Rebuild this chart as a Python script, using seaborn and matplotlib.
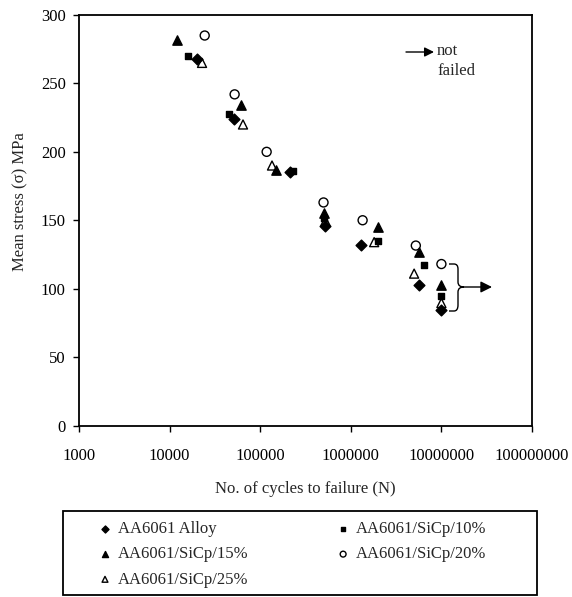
import matplotlib
matplotlib.use("Agg")
import matplotlib.pyplot as plt
from matplotlib.path import Path
from matplotlib.patches import PathPatch, Rectangle
from matplotlib.ticker import NullLocator
import pandas as pd
import seaborn as sns

# ---- data: mean stress (MPa) vs. cycles to failure ----
series_names = ["AA6061 Alloy", "AA6061/SiCp/10%", "AA6061/SiCp/15%",
                "AA6061/SiCp/20%", "AA6061/SiCp/25%"]

alloy_cycles = [20100, 51400, 211000, 525000, 1290000, 5600000, 10000000]
alloy_stress = [268, 224, 185, 145.5, 132, 102.5, 84.5]

sic10_cycles = [15800, 45300, 228000, 510000, 2020000, 6450000, 10000000]
sic10_stress = [270, 228, 186, 152, 135, 117, 94.5]

sic15_cycles = [12100, 60800, 149000, 500000, 2020000, 5600000, 10000000]
sic15_stress = [282, 234, 187, 155.5, 145, 126.5, 102.5]

sic20_cycles = [24400, 52200, 117800, 500000, 1350000, 5220000, 10000000]
sic20_stress = [285, 242, 200, 163, 150, 131.5, 118]

sic25_cycles = [22800, 64600, 135000, 525000, 1810000, 5000000, 10000000]
sic25_stress = [265, 220, 190, 149.5, 134, 111, 89.5]

x_ticks = [1e3, 1e4, 1e5, 1e6, 1e7, 1e8]
x_tick_labels = ["1000", "10000", "100000", "1000000", "10000000", "100000000"]
y_ticks = [0, 50, 100, 150, 200, 250, 300]

frames = []
for name, cyc, sts in zip(series_names,
                          [alloy_cycles, sic10_cycles, sic15_cycles, sic20_cycles, sic25_cycles],
                          [alloy_stress, sic10_stress, sic15_stress, sic20_stress, sic25_stress]):
    frames.append(pd.DataFrame({"cycles": cyc, "stress": sts, "material": name}))
df = pd.concat(frames, ignore_index=True)

# marker style per material: (marker, filled, size)
styles = {
    "AA6061 Alloy": ("D", True, 30),
    "AA6061/SiCp/10%": ("s", True, 24),
    "AA6061/SiCp/15%": ("^", True, 45),
    "AA6061/SiCp/20%": ("o", False, 42),
    "AA6061/SiCp/25%": ("^", False, 42),
}

sns.set_style("ticks")
plt.rcParams["font.family"] = ["Liberation Serif", "DejaVu Serif"]

fig = plt.figure(figsize=(5.72, 5.97), dpi=100)
W, H = 572, 597
ax = fig.add_axes([79 / W, 1 - 425.5 / H, 453 / W, 410.5 / H])

handles = {}
for name in series_names:
    marker, filled, size = styles[name]
    sub = df[df["material"] == name]
    sns.scatterplot(data=sub, x="cycles", y="stress", ax=ax, marker=marker, s=size,
                    color="black", edgecolor="black",
                    facecolor="black" if filled else "none",
                    linewidth=1.0, label=name, legend=False, zorder=3)
    handles[name] = ax.collections[-1]

ax.set_xscale("log")
ax.set_xlim(1e3, 1e8)
ax.set_ylim(0, 300)
ax.set_xticks(x_ticks)
ax.set_xticklabels(x_tick_labels)
ax.xaxis.set_minor_locator(NullLocator())
ax.set_yticks(y_ticks)

for sp in ax.spines.values():
    sp.set_linewidth(1.3)
    sp.set_color("black")
ax.tick_params(axis="both", which="major", direction="out", length=4.5, width=1.0,
               color="black", labelsize=12, labelcolor="black")
ax.tick_params(axis="x", pad=12)
ax.tick_params(axis="y", pad=5)

ax.set_xlabel("No. of cycles to failure (N)", fontsize=12, labelpad=12)
ax.set_ylabel("Mean stress (σ) MPa", fontsize=12, labelpad=8)
ax.yaxis.set_label_coords(-0.112, 0.545)

# "not failed" key arrow
def axf(px, py):
    return ((px - 79) / 453, (425.5 - py) / 410.5)

ax.annotate("", xy=axf(434, 52), xytext=axf(406, 52), xycoords="axes fraction",
            textcoords="axes fraction",
            arrowprops=dict(arrowstyle="-|>", color="black", lw=1.0, mutation_scale=14,
                            shrinkA=0, shrinkB=0))
ax.text(*axf(437, 43), "not\nfailed", transform=ax.transAxes, fontsize=12,
        ha="left", va="top", linespacing=1.35)

# brace around the run-outs at 10^7 cycles, with an arrow
pts = [(449, 264), (454, 264), (458, 264), (458, 269), (458, 282), (458, 287), (464, 287),
       (458, 287), (458, 292), (458, 305), (458, 311), (454, 311), (449, 311)]
codes = [Path.MOVETO, Path.LINETO, Path.CURVE3, Path.CURVE3, Path.LINETO, Path.CURVE3,
         Path.CURVE3, Path.CURVE3, Path.CURVE3, Path.LINETO, Path.CURVE3, Path.CURVE3,
         Path.LINETO]
brace = Path([axf(*p) for p in pts], codes)
ax.add_patch(PathPatch(brace, transform=ax.transAxes, facecolor="none",
                       edgecolor="black", lw=1.0, clip_on=False))
ax.annotate("", xy=axf(492, 287), xytext=axf(464, 287), xycoords="axes fraction",
            textcoords="axes fraction",
            arrowprops=dict(arrowstyle="-|>", color="black", lw=1.0, mutation_scale=17,
                            shrinkA=0, shrinkB=0))

# legend below the axes, row order: Alloy | 10%, 15% | 20%, 25%
order = ["AA6061 Alloy", "AA6061/SiCp/15%", "AA6061/SiCp/25%",
         "AA6061/SiCp/10%", "AA6061/SiCp/20%"]
leg = fig.legend([handles[n] for n in order], order, ncol=2, frameon=False,
                 loc="upper left", bbox_to_anchor=(90 / W, 1 - 513 / H),
                 fontsize=12, markerscale=0.65, handlelength=0.8, handletextpad=0.35,
                 columnspacing=5.3, labelspacing=0.55, borderpad=0.0)
fig.patches.append(Rectangle((63 / W, 1 - 595 / H), 474 / W, 84 / H,
                             transform=fig.transFigure, fill=False,
                             edgecolor="black", lw=1.3))

fig.savefig("out.png", dpi=100, facecolor="white")
